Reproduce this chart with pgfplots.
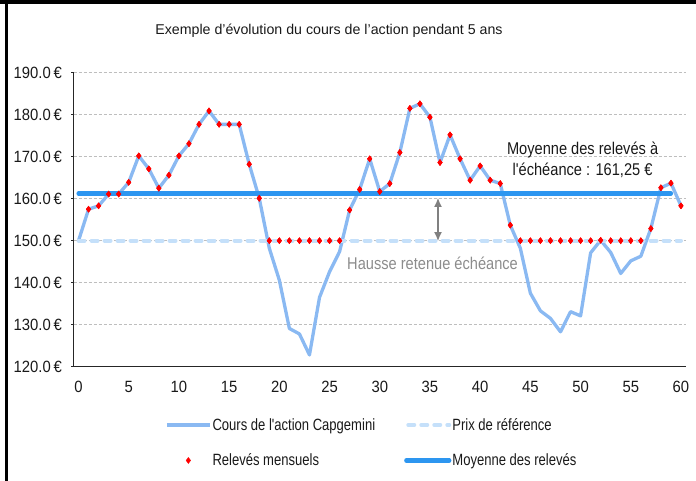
\documentclass[border=0pt]{standalone}
\usepackage{fontspec}
\usepackage{pgfplots}
\usepackage{pgfplotstable}
\pgfplotsset{compat=1.18}
\usetikzlibrary{arrows.meta}
\setmainfont{Liberation Sans}
\newfontfamily\legendfont{Liberation Sans}[FakeStretch=0.80]
\newfontfamily\annotfont{Liberation Sans}[FakeStretch=0.86]
\newfontfamily\tickfont{Liberation Sans}[FakeStretch=0.91]
\definecolor{cours}{RGB}{138,185,242}
\definecolor{refc}{RGB}{197,224,250}
\definecolor{moy}{RGB}{45,150,240}
\definecolor{gridc}{RGB}{190,190,190}
\pgfplotsset{
  lineimg/.style={legend image code/.code={\draw[##1] (0bp,0bp) -- (43bp,0bp);}},
  dashimg/.style={legend image code/.code={\draw[##1] (2bp,0bp) -- (43bp,0bp);}},
  markimg/.style={legend image code/.code={\draw[##1] plot coordinates {(21.5bp,0bp)};}},
}

\pgfplotstableread{
x y
0 150
1 157.5
2 158.3
3 161.1
4 161.1
5 163.9
6 170.2
7 167.1
8 162.5
9 165.6
10 170.2
11 173.1
12 177.7
13 180.9
14 177.7
15 177.7
16 177.7
17 168.2
18 160.1
19 148.2
20 140.6
21 129.1
22 127.8
23 122.8
24 136.5
25 142.6
26 147.4
27 157.3
28 162.2
29 169.5
30 161.7
31 163.6
32 171.0
33 181.5
34 182.6
35 179.4
36 168.6
37 175.2
38 169.5
39 164.4
40 167.8
41 164.4
42 163.6
43 153.7
44 148.2
45 137.5
46 133.3
47 131.5
48 128.3
49 133.1
50 132.1
51 147.1
52 150.1
53 147.2
54 142.2
55 145.2
56 146.3
57 152.9
58 162.6
59 163.7
60 158.3
}\cours

\pgfplotstableread{
x y
1 157.5
2 158.3
3 161.1
4 161.1
5 163.9
6 170.2
7 167.1
8 162.5
9 165.6
10 170.2
11 173.1
12 177.7
13 180.9
14 177.7
15 177.7
16 177.7
17 168.2
18 160.1
19 150
20 150
21 150
22 150
23 150
24 150
25 150
26 150
27 157.3
28 162.2
29 169.5
30 161.7
31 163.6
32 171.0
33 181.5
34 182.6
35 179.4
36 168.6
37 175.2
38 169.5
39 164.4
40 167.8
41 164.4
42 163.6
43 153.7
44 150
45 150
46 150
47 150
48 150
49 150
50 150
51 150
52 150.1
53 150
54 150
55 150
56 150
57 152.9
58 162.6
59 163.7
60 158.3
}\releves

\begin{document}
\begin{tikzpicture}[x=1bp,y=1bp]
\useasboundingbox (0,0) rectangle (696,481);
\fill[black] (0,476.5) rectangle (696,480.5);
\fill[black] (5,0) rectangle (8,481);
\node[font=\fontsize{14.2bp}{16bp}\selectfont, text=black!90] at (329,450) {Exemple d'évolution du cours de l'action pendant 5 ans};
\begin{axis}[
  at={(73.5bp,114.3bp)}, anchor=south west,
  scale only axis, width=612.5bp, height=294bp,
  xmin=-0.5, xmax=60.5, ymin=120, ymax=190,
  axis x line*=bottom, axis y line*=left,
  axis line style={line width=0.9bp, black!85},
  tick align=outside,
  major tick length=2.5bp,
  every tick/.style={black!85, line width=0.8bp},
  xtick={0,5,...,60},
  xtick style={draw=none},
  extra x ticks={-0.5,4.5,...,59.5},
  extra x tick labels={},
  extra x tick style={major tick length=5bp, tick style={draw=black!85, line width=0.8bp}},
  ytick={120,130,...,190},
  ymajorgrids,
  major grid style={gridc, line width=0.7bp, dash pattern=on 3.3bp off 1.7bp},
  /pgf/number format/assume math mode=true,
  yticklabel={\pgfmathprintnumber[fixed,fixed zerofill,precision=1]{\tick}\,€},
  every tick label/.append style={font=\tickfont\fontsize{16.3bp}{18bp}\selectfont, text=black!90},
  xticklabel style={inner sep=0bp, anchor=north, yshift=-12bp},
  yticklabel style={inner sep=0bp, anchor=east, xshift=-9bp},
  legend columns=2,
  legend cell align=left,
  legend style={at={(0.1494,-0.1745)}, anchor=north west, draw=none, fill=none,
    font=\legendfont\fontsize{16.3bp}{18bp}\selectfont, inner sep=0bp,
    nodes={inner sep=0bp, text=black!90},
    row sep=22bp,
    /tikz/every odd column/.append style={column sep=1bp},
    /tikz/every even column/.append style={column sep=29bp}},
]
\addplot[color=cours, line width=3.3bp, line join=round, lineimg] table[x=x,y=y] {\cours};
\addlegendentry{Cours de l'action Capgemini}
\addplot[color=refc, line width=4bp, line cap=round, dash pattern=on 6bp off 7bp, dashimg] coordinates {(0,150) (60,150)};
\addlegendentry{Prix de référence}
\addplot[only marks, mark=diamond*, mark size=3bp, color=red, markimg] table[x=x,y=y] {\releves};
\addlegendentry{Relevés mensuels}
\addplot[color=moy, line width=4.2bp, line cap=round, lineimg] coordinates {(0,161.25) (59,161.25)};
\addlegendentry{Moyenne des relevés}
\addplot[forget plot, only marks, mark=diamond*, mark size=3bp, color=red] table[x=x,y=y] {\releves};
\draw[black!50, line width=1.5bp, {Latex[length=9bp,width=8bp]}-{Latex[length=9bp,width=8bp]}] (axis cs:35.8,160.2) -- (axis cs:35.8,149.9);
\node[font=\annotfont\fontsize{17bp}{21bp}\selectfont, text=black!45] at (axis cs:35.26,144.7) {Hausse retenue échéance};
\node[align=center, font=\annotfont\fontsize{17bp}{21bp}\selectfont, text=black!90] at (axis cs:50.2,169.3) {Moyenne des relevés à\\l'échéance : 161,25 €};
\end{axis}
\end{tikzpicture}
\end{document}
